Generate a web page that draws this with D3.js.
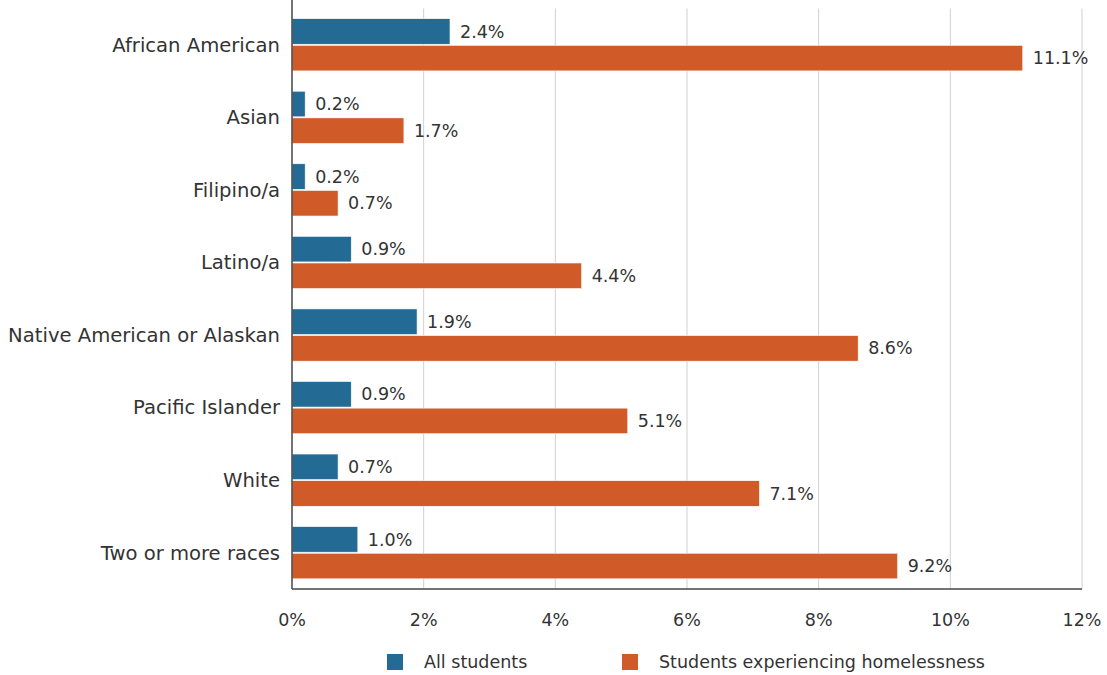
<!DOCTYPE html>
<html>
<head>
<meta charset="utf-8">
<script src="https://cdn.jsdelivr.net/npm/d3@7"></script>
<style>
  html, body { margin: 0; padding: 0; background: #fff; }
  svg text { font-family: "DejaVu Sans", Verdana, sans-serif; fill: #333; }
</style>
</head>
<body>
<svg id="chart" width="1107" height="675"></svg>
<script>
// Share of students by race/ethnicity
const categories = [
  "African American", "Asian", "Filipino/a", "Latino/a",
  "Native American or Alaskan", "Pacific Islander", "White", "Two or more races"
];
const allStudents = [2.4, 0.2, 0.2, 0.9, 1.9, 0.9, 0.7, 1.0];
const homeless = [11.1, 1.7, 0.7, 4.4, 8.6, 5.1, 7.1, 9.2];
const seriesNames = ["All students", "Students experiencing homelessness"];
const seriesColors = ["#236b94", "#d05a28"];
const xTicks = [0, 2, 4, 6, 8, 10, 12];

const svg = d3.select("#chart");
const margin = { left: 292, right: 25, top: 8.5, bottom: 86 };
const W = 1107, H = 675;
const plotW = W - margin.left - margin.right;
const plotH = H - margin.top - margin.bottom;

const g = svg.append("g").attr("transform", `translate(${margin.left},${margin.top})`);

const x = d3.scaleLinear().domain([0, 12]).range([0, plotW]);
const y = d3.scaleBand().domain(categories).range([0, plotH]).paddingInner(0.28).paddingOuter(0.14);
const sub = d3.scaleBand().domain([0, 1]).range([0, y.bandwidth()]).paddingInner(0.04);

// vertical gridlines
g.append("g").selectAll("line").data(xTicks.filter(t => t > 0)).join("line")
  .attr("x1", d => x(d)).attr("x2", d => x(d))
  .attr("y1", 0).attr("y2", plotH)
  .attr("stroke", "#d0d0d0").attr("stroke-width", 1);

// bars
const rows = categories.map((c, i) => ({ c, vals: [allStudents[i], homeless[i]] }));
const rowG = g.selectAll("g.row").data(rows).join("g")
  .attr("class", "row")
  .attr("transform", d => `translate(0,${y(d.c)})`);

rowG.selectAll("rect").data(d => d.vals.map((v, k) => ({ v, k }))).join("rect")
  .attr("x", 0)
  .attr("y", d => sub(d.k))
  .attr("width", d => x(d.v))
  .attr("height", sub.bandwidth())
  .attr("fill", d => seriesColors[d.k])
  .attr("stroke", "#fff").attr("stroke-width", 0.6);

rowG.selectAll("text.val").data(d => d.vals.map((v, k) => ({ v, k }))).join("text")
  .attr("class", "val")
  .attr("x", d => x(d.v) + 10)
  .attr("y", d => sub(d.k) + sub.bandwidth() / 2)
  .attr("dy", "0.35em")
  .attr("font-size", 17.5)
  .text(d => d.v.toFixed(1) + "%");

// category labels
g.append("g").selectAll("text").data(categories).join("text")
  .attr("x", -12)
  .attr("y", d => y(d) + y.bandwidth() / 2)
  .attr("dy", "0.35em")
  .attr("text-anchor", "end")
  .attr("font-size", 19.6)
  .text(d => d);

// axes lines
g.append("line").attr("x1", 0).attr("x2", 0).attr("y1", -9).attr("y2", plotH)
  .attr("stroke", "#444").attr("stroke-width", 1.5);
g.append("line").attr("x1", 0).attr("x2", plotW).attr("y1", plotH).attr("y2", plotH)
  .attr("stroke", "#444").attr("stroke-width", 1.5);

// x tick labels
g.append("g").selectAll("text").data(xTicks).join("text")
  .attr("x", d => x(d))
  .attr("y", plotH + 31)
  .attr("dy", "0.35em")
  .attr("text-anchor", "middle")
  .attr("font-size", 17.5)
  .text(d => d + "%");

// legend
const legendX = [387, 622];
const legend = svg.append("g").selectAll("g").data(seriesNames).join("g")
  .attr("transform", (d, i) => `translate(${legendX[i]},662)`);
legend.append("rect").attr("x", 0).attr("y", -8).attr("width", 16).attr("height", 16)
  .attr("fill", (d, i) => seriesColors[i]);
legend.append("text").attr("x", 37).attr("dy", "0.35em").attr("font-size", 17.5).text(d => d);
</script>
</body>
</html>
